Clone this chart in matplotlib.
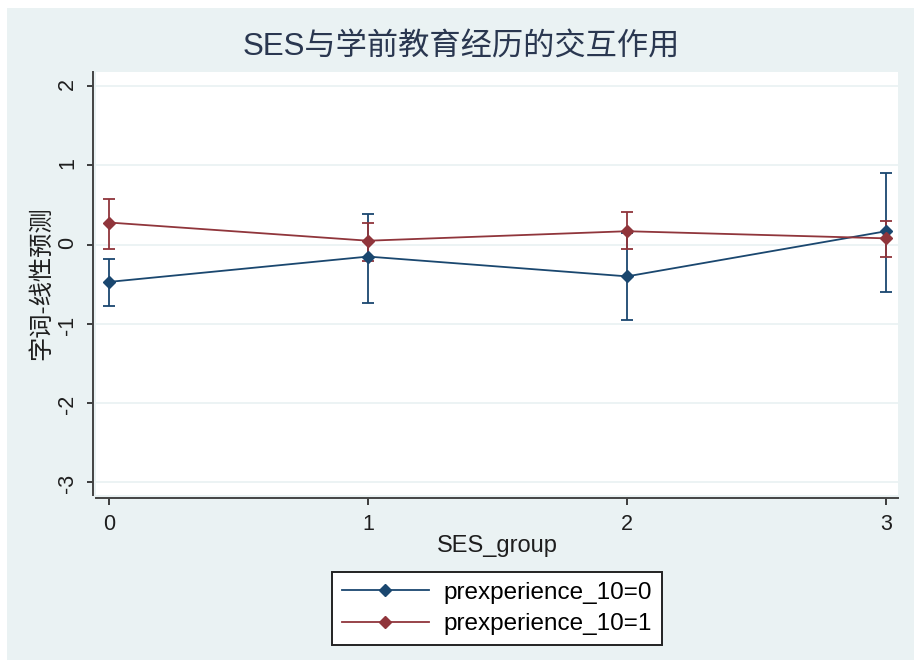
import matplotlib
matplotlib.use("Agg")
import matplotlib.pyplot as plt
from matplotlib.patches import Rectangle
import numpy as np

# ---- data ----
ses_group = [0, 1, 2, 3]
pred_0 = [-0.47, -0.15, -0.40, 0.17]
lo_0 = [-0.77, -0.73, -0.95, -0.60]
hi_0 = [-0.18, 0.39, 0.15, 0.90]
pred_1 = [0.28, 0.05, 0.17, 0.08]
lo_1 = [-0.06, -0.20, -0.06, -0.16]
hi_1 = [0.58, 0.27, 0.41, 0.30]
series_labels = ["prexperience_10=0", "prexperience_10=1"]
yticks = [-3, -2, -1, 0, 1, 2]
xticks = [0, 1, 2, 3]
title = "SES与学前教育经历的交互作用"
xlabel = "SES_group"
ylabel = "字词-线性预测"

FONT = ["Liberation Sans", "Noto Sans CJK SC", "DejaVu Sans"]
plt.rcParams["font.family"] = FONT

W, H = 914, 660
fig = plt.figure(figsize=(W / 100, H / 100), dpi=100)
fig.patch.set_facecolor("white")
bg = "#EAF2F3"
fig.patches.append(Rectangle((7 / W, 0), 1 - 7 / W, 1 - 8 / H, transform=fig.transFigure,
                             facecolor=bg, edgecolor="none", zorder=-10))

L, R, T, B = 96, 898, 72, 495
ax = fig.add_axes([L / W, 1 - B / H, (R - L) / W, (B - T) / H])
ax.set_facecolor("white")

blue = "#1A476F"
red = "#90353B"

for y, lo, hi, c in [(pred_0, lo_0, hi_0, blue), (pred_1, lo_1, hi_1, red)]:
    y = np.array(y); lo = np.array(lo); hi = np.array(hi)
    ax.errorbar(ses_group, y, yerr=[y - lo, hi - y], fmt="none", ecolor=c,
                elinewidth=1.3, capsize=4, capthick=1.3, zorder=3)
for y, c, lab in [(pred_0, blue, series_labels[0]), (pred_1, red, series_labels[1])]:
    ax.plot(ses_group, y, color=c, lw=1.3, marker="D", markersize=6.5, label=lab, zorder=4)

ax.set_xlim(-0.05, 3.046)
ax.set_ylim(-3.16, 2.18)
ax.set_xticks(xticks)
ax.set_yticks(yticks)
ax.set_xticklabels([str(v) for v in xticks])
ax.set_yticklabels([str(v) for v in yticks])
ax.tick_params(axis="both", labelsize=15.5, colors="#1e1e1e", width=1.2)
ax.tick_params(axis="y", length=4, pad=7, labelrotation=90)
for t in ax.get_yticklabels():
    t.set_va("center")
ax.tick_params(axis="x", length=5, pad=7)
ax.grid(axis="y", color=bg, lw=1.3, zorder=0)
ax.set_axisbelow(True)

for s in ["top", "right"]:
    ax.spines[s].set_visible(False)
for s in ["left", "bottom"]:
    ax.spines[s].set_color("#444444")
    ax.spines[s].set_linewidth(1.4)
    ax.spines[s].set_position(("outward", 2))

ax.set_xlabel(xlabel, fontsize=17, color="#1e1e1e", labelpad=0)
ax.set_ylabel(ylabel, fontsize=17.5, color="#1e1e1e", labelpad=3)

fig.text(461 / W, 1 - 48 / H, title, ha="center", va="center",
         fontsize=22.5, color="#2a3750")

leg = fig.legend(loc="center", bbox_to_anchor=((L + R) / 2 / W, 1 - 608.5 / H),
                 fontsize=17.5, frameon=True, fancybox=False, edgecolor="#222222",
                 facecolor="white", handlelength=3.6, handletextpad=0.6,
                 labelspacing=0.4, borderpad=0.4, borderaxespad=0, ncol=1)
leg.get_frame().set_linewidth(1.4)
leg.get_frame().set_alpha(1)

fig.savefig("out.png", dpi=100, facecolor=fig.get_facecolor())
